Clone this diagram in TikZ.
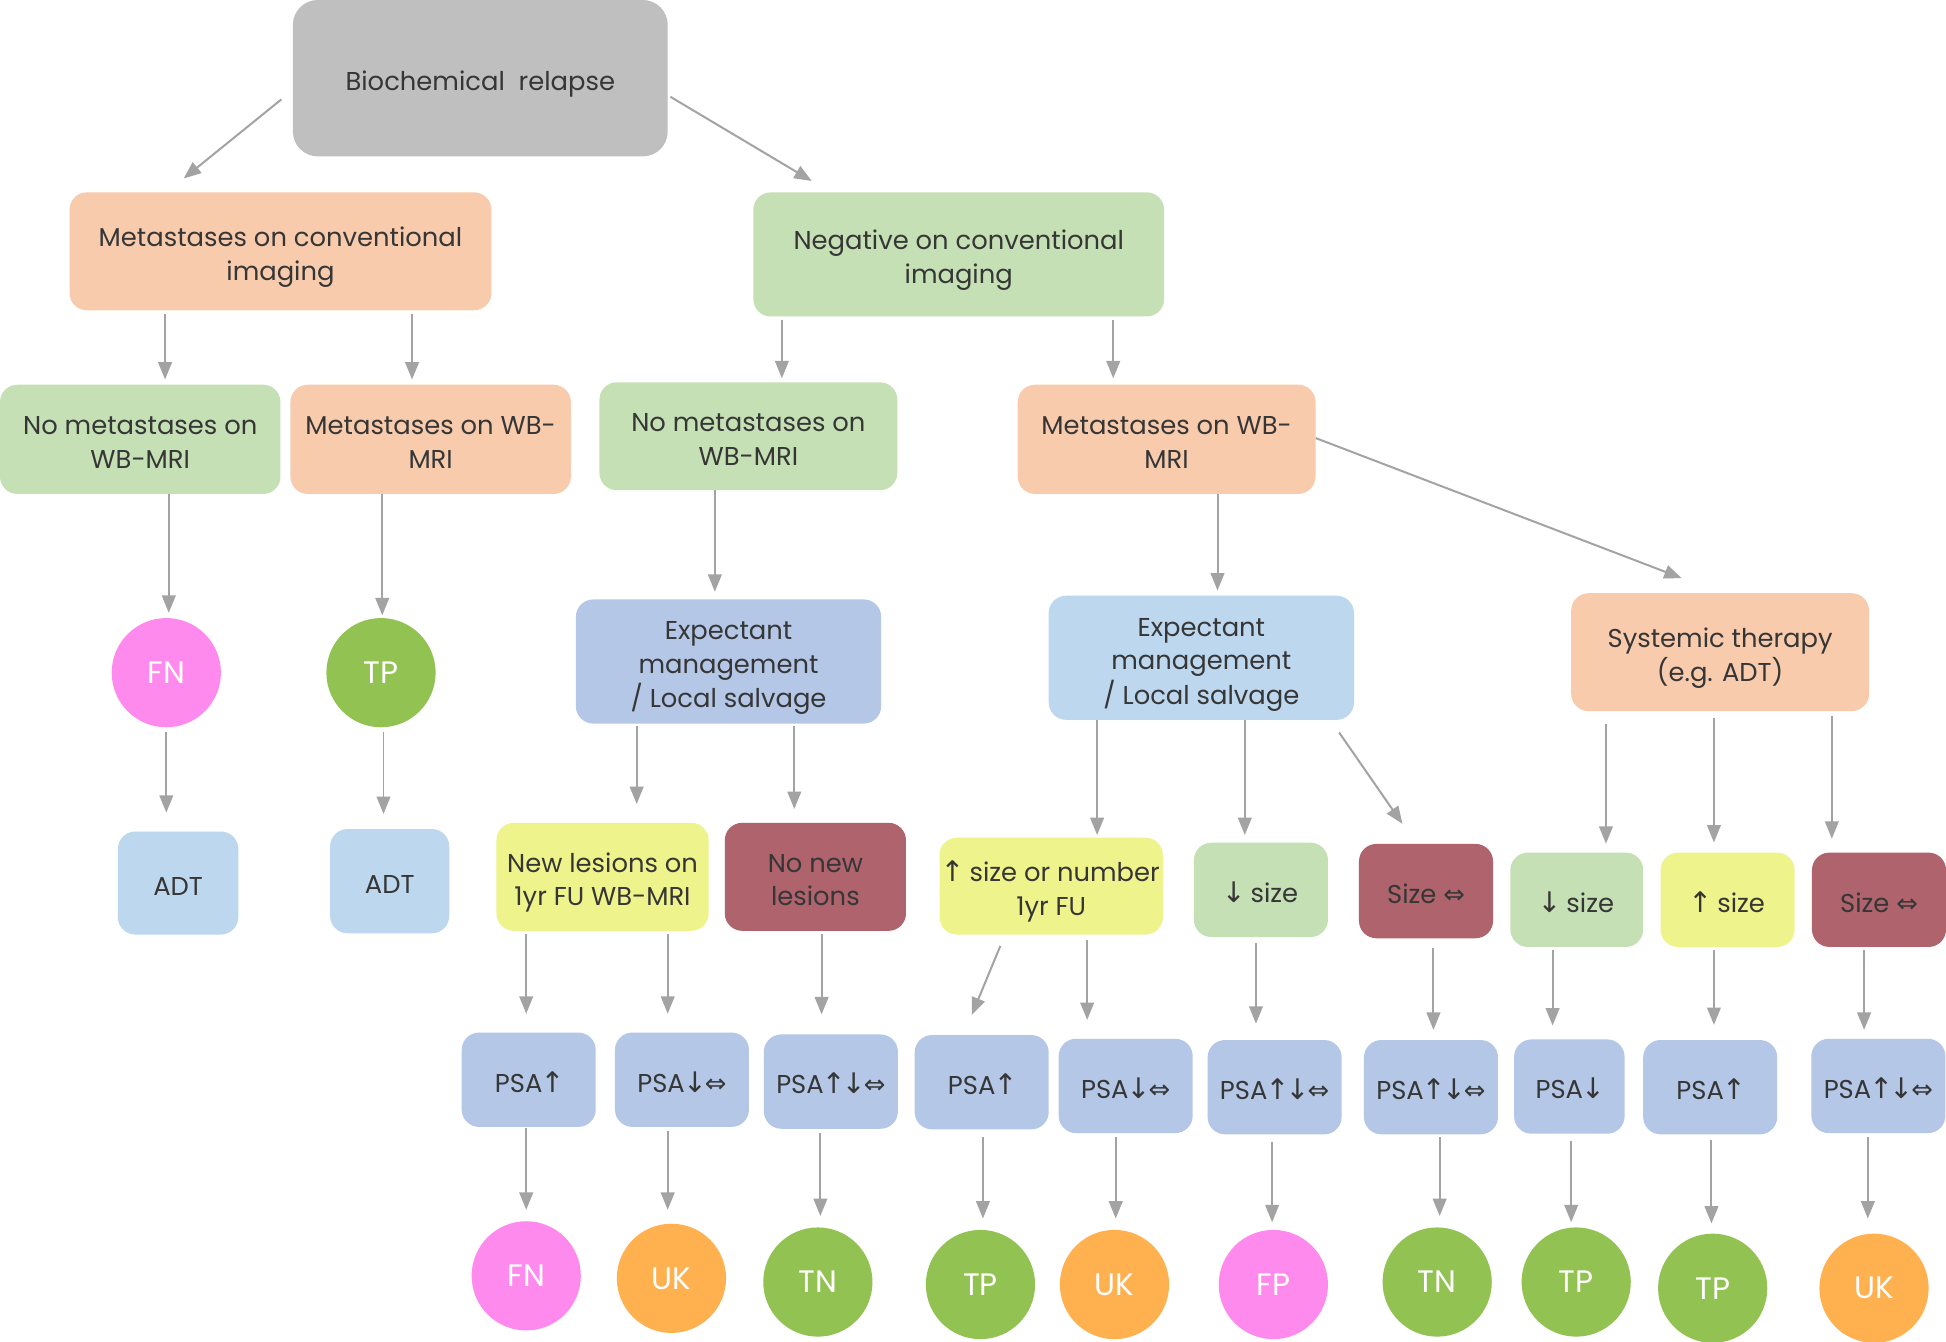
\documentclass[tikz,border=0pt]{standalone}
\usepackage{fontspec}
\setmainfont{Poppins}
\newfontfamily\symf{DejaVu Sans}
\usetikzlibrary{arrows.meta}
\definecolor{cgray}{HTML}{BFBFBF}
\definecolor{corange}{HTML}{F8CBAD}
\definecolor{cgreen}{HTML}{C5E0B4}
\definecolor{cblue}{HTML}{B4C7E7}
\definecolor{csky}{HTML}{BDD7EE}
\definecolor{cyellow}{HTML}{EFF38C}
\definecolor{cred}{HTML}{AF636D}
\definecolor{cpink}{HTML}{FF8AEE}
\definecolor{cgc}{HTML}{92C352}
\definecolor{coc}{HTML}{FFB04F}
\definecolor{tgray}{HTML}{363636}
\definecolor{agray}{HTML}{A3A3A3}
\newcommand{\myup}{{\symf\kern-1.5pt\scalebox{1.1}{↑}\kern-1.5pt}}
\newcommand{\mydown}{{\symf\kern-1.5pt\scalebox{1.1}{↓}\kern-1.5pt}}
\newcommand{\mylr}{{\symf ⇔}}
\newcommand{\tx}[1]{\raisebox{-4.5pt}[\height][\depth]{\begin{tabular}{@{}c@{}}#1\end{tabular}}}
\begin{document}
\begin{tikzpicture}[x=1pt,y=-1pt,
  box/.style={rectangle, rounded corners=14pt, inner sep=0pt, text=tgray, font=\fontsize{20.8}{27}\selectfont},
  circ/.style={circle, minimum size=88pt, inner sep=0pt, text=white, font=\fontsize{25}{25}\selectfont},
  psa/.style={box, fill=cblue, minimum width=108pt, minimum height=76pt},
  arr/.style={draw=agray, line width=1.6pt, -{Triangle[length=14pt,width=11pt]}, shorten <=3pt}]
\fill[white] (0,0) rectangle (1568,1081);
\useasboundingbox (0,0) rectangle (1568,1081);
% row 0
\node[box, fill=cgray, rounded corners=20pt, minimum width=302pt, minimum height=126pt] (bio) at (387,63) {\tx{Biochemical\ \ relapse}};
% row 1
\node[box, fill=corange, minimum width=340pt, minimum height=95pt] (mci) at (226,202.5) {\tx{Metastases on conventional\\imaging}};
\node[box, fill=cgreen, minimum width=331pt, minimum height=100pt] (nci) at (772.5,205) {\tx{Negative on conventional\\imaging}};
% row 2
\node[box, fill=cgreen, minimum width=226pt, minimum height=88pt] (nm1) at (113,354) {\tx{No metastases on\\WB-MRI}};
\node[box, fill=corange, minimum width=226pt, minimum height=88pt] (m1) at (347,354) {\tx{Metastases on WB-\\MRI}};
\node[box, fill=cgreen, minimum width=240pt, minimum height=87pt] (nm2) at (603,351.5) {\tx{No metastases on\\WB-MRI}};
\node[box, fill=corange, minimum width=240pt, minimum height=88pt] (m2) at (940,354) {\tx{Metastases on WB-\\MRI}};
% row 3
\node[circ, fill=cpink] (fn1) at (134,542) {FN};
\node[circ, fill=cgc] (tp1) at (307,542) {TP};
\node[box, fill=cblue, minimum width=246pt, minimum height=100pt] (em1) at (587,533) {\tx{Expectant\\management\\/ Local salvage}};
\node[box, fill=csky, minimum width=246pt, minimum height=100pt] (em2) at (968,530) {\tx{Expectant\\management\\/ Local salvage}};
\node[box, fill=corange, minimum width=240pt, minimum height=95pt] (sys) at (1386,525.5) {\tx{Systemic therapy\\(e.g. ADT)}};
% row 4
\node[box, fill=csky, minimum width=97pt, minimum height=83pt] (adt1) at (143.5,711.5) {\tx{ADT}};
\node[box, fill=csky, minimum width=96pt, minimum height=84pt] (adt2) at (314,710) {\tx{ADT}};
\node[box, fill=cyellow, minimum width=171pt, minimum height=87pt] (nl) at (485.5,706.5) {\tx{New lesions on\\1yr FU WB-MRI}};
\node[box, fill=cred, minimum width=146pt, minimum height=87pt] (nnl) at (657,706.5) {\tx{No new\\lesions}};
\node[box, fill=cyellow, minimum width=180pt, minimum height=78pt] (usn) at (847,714) {\tx{\myup{} size or number\\1yr FU}};
\node[box, fill=cgreen, minimum width=108pt, minimum height=76pt] (ds1) at (1016,717) {\tx{\mydown{} size}};
\node[box, fill=cred, minimum width=108pt, minimum height=76pt] (sz1) at (1149,718) {\tx{Size \mylr}};
\node[box, fill=cgreen, minimum width=107pt, minimum height=76pt] (ds2) at (1270.5,725) {\tx{\mydown{} size}};
\node[box, fill=cyellow, minimum width=108pt, minimum height=76pt] (us2) at (1392,725) {\tx{\myup{} size}};
\node[box, fill=cred, minimum width=108pt, minimum height=76pt] (sz2) at (1514,725) {\tx{Size \mylr}};
% row 5
\node[psa] (p1) at (426,870) {\tx{PSA\myup}};
\node[psa] (p2) at (549.5,870) {\tx{PSA\mydown\mylr}};
\node[psa] (p3) at (669.5,871.5) {\tx{PSA\myup\mydown\mylr}};
\node[psa] (p4) at (791,872) {\tx{PSA\myup}};
\node[psa] (p5) at (907,875) {\tx{PSA\mydown\mylr}};
\node[psa] (p6) at (1027,876) {\tx{PSA\myup\mydown\mylr}};
\node[psa] (p7) at (1153,876) {\tx{PSA\myup\mydown\mylr}};
\node[psa, minimum width=89pt] (p8) at (1264.5,875.5) {\tx{PSA\mydown}};
\node[psa] (p9) at (1378,876) {\tx{PSA\myup}};
\node[psa] (p10) at (1513.5,875) {\tx{PSA\myup\mydown\mylr}};
% row 6
\node[circ, fill=cpink] (c1) at (424,1028) {FN};
\node[circ, fill=coc] (c2) at (541,1030) {UK};
\node[circ, fill=cgc] (c3) at (659,1033) {TN};
\node[circ, fill=cgc] (c4) at (790,1035) {TP};
\node[circ, fill=coc] (c5) at (898,1035) {UK};
\node[circ, fill=cpink] (c6) at (1026,1035) {FP};
\node[circ, fill=cgc] (c7) at (1158,1033) {TN};
\node[circ, fill=cgc] (c8) at (1270,1033) {TP};
\node[circ, fill=cgc] (c9) at (1380,1038) {TP};
\node[circ, fill=coc] (c10) at (1510,1038) {UK};
% connectors
\draw[arr, shorten <=0pt] ([shift={(-9,17)}]bio.west) -- ([shift={(-78,-11)}]mci.north);
\draw[arr, shorten <=0pt] ([shift={(2,15)}]bio.east) -- ([shift={(-118.5,-9)}]nci.north);
\draw[arr, shorten >=4pt] (mci.south -| 133,0) -- (nm1.north -| 133,0);
\draw[arr, shorten >=4pt] (mci.south -| 332,0) -- (m1.north -| 332,0);
\draw[arr, shorten >=3pt] (nci.south -| 630,0) -- (nm2.north -| 630,0);
\draw[arr, shorten >=5pt] (nci.south -| 897,0) -- (m2.north -| 897,0);
\draw[arr, shorten >=4pt, shorten <=0pt] (nm1.south -| 136,0) -- (fn1.north -| 136,0);
\draw[arr, shorten >=2pt, shorten <=0pt] (m1.south -| 308,0) -- (tp1.north -| 308,0);
\draw[arr, shorten >=6pt, shorten <=0pt] (nm2.south -| 576,0) -- (em1.north -| 576,0);
\draw[arr, shorten >=4pt, shorten <=0pt] (m2.south -| 981,0) -- (em2.north -| 981,0);
\draw[arr, shorten <=0pt] ([shift={(0,-1)}]m2.east) -- ([shift={(-31,-12)}]sys.north);
\draw[arr, shorten >=15pt, shorten <=4pt] (fn1.south -| 134,0) -- (adt1.north -| 134,0);
\draw[arr, shorten >=12pt, shorten <=4pt] (tp1.south -| 309,0) -- (adt2.north -| 309,0);
\draw[arr, shorten >=15pt, shorten <=2pt] (em1.south -| 513,0) -- (nl.north -| 513,0);
\draw[arr, shorten >=11pt, shorten <=2pt] (em1.south -| 640,0) -- (nnl.north -| 640,0);
\draw[arr, shorten >=2pt, shorten <=0pt] (em2.south -| 884,0) -- (usn.north -| 884,0);
\draw[arr, shorten >=6pt, shorten <=0pt] (em2.south -| 1003,0) -- (ds1.north -| 1003,0);
\draw[arr, shorten <=0pt] ([shift={(111,10)}]em2.south) -- ([shift={(-19,-16)}]sz1.north);
\draw[arr, shorten >=7pt, shorten <=10pt] (sys.south -| 1294,0) -- (ds2.north -| 1294,0);
\draw[arr, shorten >=8pt, shorten <=5pt] (sys.south -| 1381,0) -- (us2.north -| 1381,0);
\draw[arr, shorten >=11pt, shorten <=4pt] (sys.south -| 1476,0) -- (sz2.north -| 1476,0);
\draw[arr, shorten >=15pt, shorten <=2pt] (nl.south -| 424,0) -- (p1.north -| 424,0);
\draw[arr, shorten >=15pt, shorten <=2pt] (nl.south -| 538,0) -- (p2.north -| 538,0);
\draw[arr, shorten >=16pt, shorten <=2pt] (nnl.south -| 662,0) -- (p3.north -| 662,0);
\draw[arr, shorten <=0pt] ([shift={(-41,9)}]usn.south) -- ([shift={(-8,-16)}]p4.north);
\draw[arr, shorten >=15pt, shorten <=4pt] (usn.south -| 876,0) -- (p5.north -| 876,0);
\draw[arr, shorten >=13pt, shorten <=5pt] (ds1.south -| 1012,0) -- (p6.north -| 1012,0);
\draw[arr, shorten >=8pt, shorten <=8pt] (sz1.south -| 1155,0) -- (p7.north -| 1155,0);
\draw[arr, shorten >=11pt, shorten <=2pt] (ds2.south -| 1251,0) -- (p8.north -| 1251,0);
\draw[arr, shorten >=12pt, shorten <=2pt] (us2.south -| 1381,0) -- (p9.north -| 1381,0);
\draw[arr, shorten >=7pt, shorten <=2pt] (sz2.south -| 1502,0) -- (p10.north -| 1502,0);
\draw[arr, shorten >=9pt, shorten <=1pt] (p1.south -| 424,0) -- (c1.north -| 424,0);
\draw[arr, shorten >=11pt] (p2.south -| 538,0) -- (c2.north -| 538,0);
\draw[arr, shorten >=9pt] (p3.south -| 661,0) -- (c3.north -| 661,0);
\draw[arr, shorten >=9pt, shorten <=6pt] (p4.south -| 792,0) -- (c4.north -| 792,0);
\draw[arr, shorten >=9pt] (p5.south -| 899,0) -- (c5.north -| 899,0);
\draw[arr, shorten >=6pt, shorten <=6pt] (p6.south -| 1025,0) -- (c6.north -| 1025,0);
\draw[arr, shorten >=9pt, shorten <=2pt] (p7.south -| 1160,0) -- (c7.north -| 1160,0);
\draw[arr, shorten >=4pt, shorten <=6pt] (p8.south -| 1266,0) -- (c8.north -| 1266,0);
\draw[arr, shorten >=8pt, shorten <=4pt] (p9.south -| 1379,0) -- (c9.north -| 1379,0);
\draw[arr, shorten >=12pt, shorten <=3pt] (p10.south -| 1505,0) -- (c10.north -| 1505,0);
\end{tikzpicture}
\end{document}
